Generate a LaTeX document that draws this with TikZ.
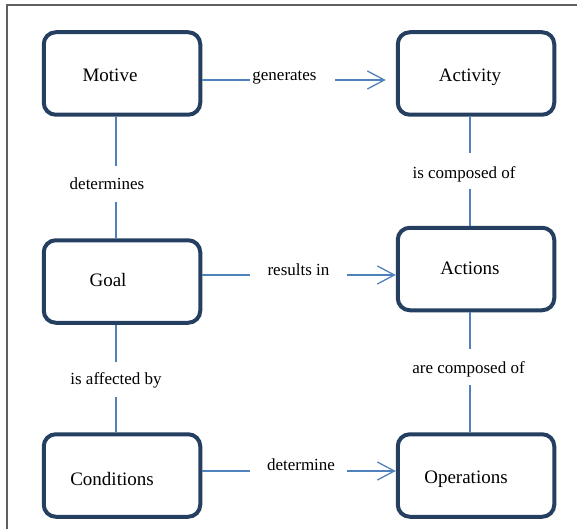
\documentclass[tikz,border=0pt]{standalone}
\usepackage{fontspec}
\setmainfont{Liberation Serif}
\usetikzlibrary{arrows.meta}
\definecolor{boxblue}{RGB}{36,63,96}
\definecolor{linkblue}{RGB}{79,129,189}
\definecolor{framegray}{RGB}{95,95,95}

\begin{document}
\begin{tikzpicture}[x=1pt,y=-1pt,
		box/.style={draw=boxblue,line width=4pt,rounded corners=12pt,minimum width=156.5pt,minimum height=82.5pt,inner sep=0pt},
		boxtext/.style={font=\fontsize{19}{22}\selectfont,inner sep=0pt},
		lbl/.style={font=\fontsize{17}{20}\selectfont,inner sep=0pt},
		link/.style={draw=linkblue,line width=1.3pt},
		flow/.style={link,-{Straight Barb[length=17pt,width=18pt]}}]
		\useasboundingbox (0,0) rectangle (580,529);
		\draw[framegray,line width=1.5pt] (7,529) -- (7,5) -- (577,5);

		\node[box,label={[boxtext,xshift=-12pt,yshift=-1.5pt]center:Motive}] (motive) at (122,73.5) {};
		\node[box,label={[boxtext,xshift=-6pt,yshift=-3.5pt]center:Activity}] (activity) at (476,73.5) {};
		\node[box,label={[boxtext,xshift=-14pt,yshift=1.5pt]center:Goal}] (goal) at (122,281.5) {};
		\node[box,label={[boxtext,xshift=-6pt,yshift=1pt]center:Actions}] (actions) at (476,269) {};
		\node[box,label={[boxtext,xshift=-10pt,yshift=-3.5pt]center:Conditions}] (conditions) at (122,475.5) {};
		\node[box,label={[boxtext,xshift=-10pt,yshift=-4pt]center:Operations}] (operations) at (476,475.5) {};

		\node[lbl] (gen) at (284.5,78) {generates};
		\node[lbl] (res) at (298.5,270) {results in};
		\node[lbl] (detm) at (301,465) {determine};
		\node[lbl] (dets) at (107,184) {determines};
		\node[lbl] (affby) at (116,380.5) {is affected by};
		\node[lbl] (iscomp) at (464,174) {is composed of};
		\node[lbl] (arecomp) at (468.5,369) {are composed of};

		\coordinate (g1) at (250,80);
		\coordinate (g2) at (335,80);
		\coordinate (r1) at (250,275);
		\coordinate (r2) at (347,275);
		\coordinate (d1) at (250,471);
		\coordinate (d2) at (347,471);
		\coordinate (m1) at (116,166);
		\coordinate (m2) at (116,202);
		\coordinate (a1) at (470,153);
		\coordinate (a2) at (470,189);
		\coordinate (o1) at (116,362);
		\coordinate (o2) at (116,397);
		\coordinate (c1) at (470,349);
		\coordinate (c2) at (470,385);

		\draw[link] (motive.east |- g1) -- (g1);
		\draw[flow,shorten >=10pt] (g2) -- (activity.west |- g2);
		\draw[link] (goal.east |- r1) -- (r1);
		\draw[flow] (r2) -- (actions.west |- r2);
		\draw[link] (conditions.east |- d1) -- (d1);
		\draw[flow] (d2) -- (operations.west |- d2);

		\draw[link] (motive.south -| m1) -- (m1);
		\draw[link] (m2) -- (goal.north -| m2);
		\draw[link] (goal.south -| o1) -- (o1);
		\draw[link] (o2) -- (conditions.north -| o2);
		\draw[link] (activity.south -| a1) -- (a1);
		\draw[link] (a2) -- (actions.north -| a2);
		\draw[link] (actions.south -| c1) -- (c1);
		\draw[link] (c2) -- (operations.north -| c2);
	\end{tikzpicture}
\end{document}
